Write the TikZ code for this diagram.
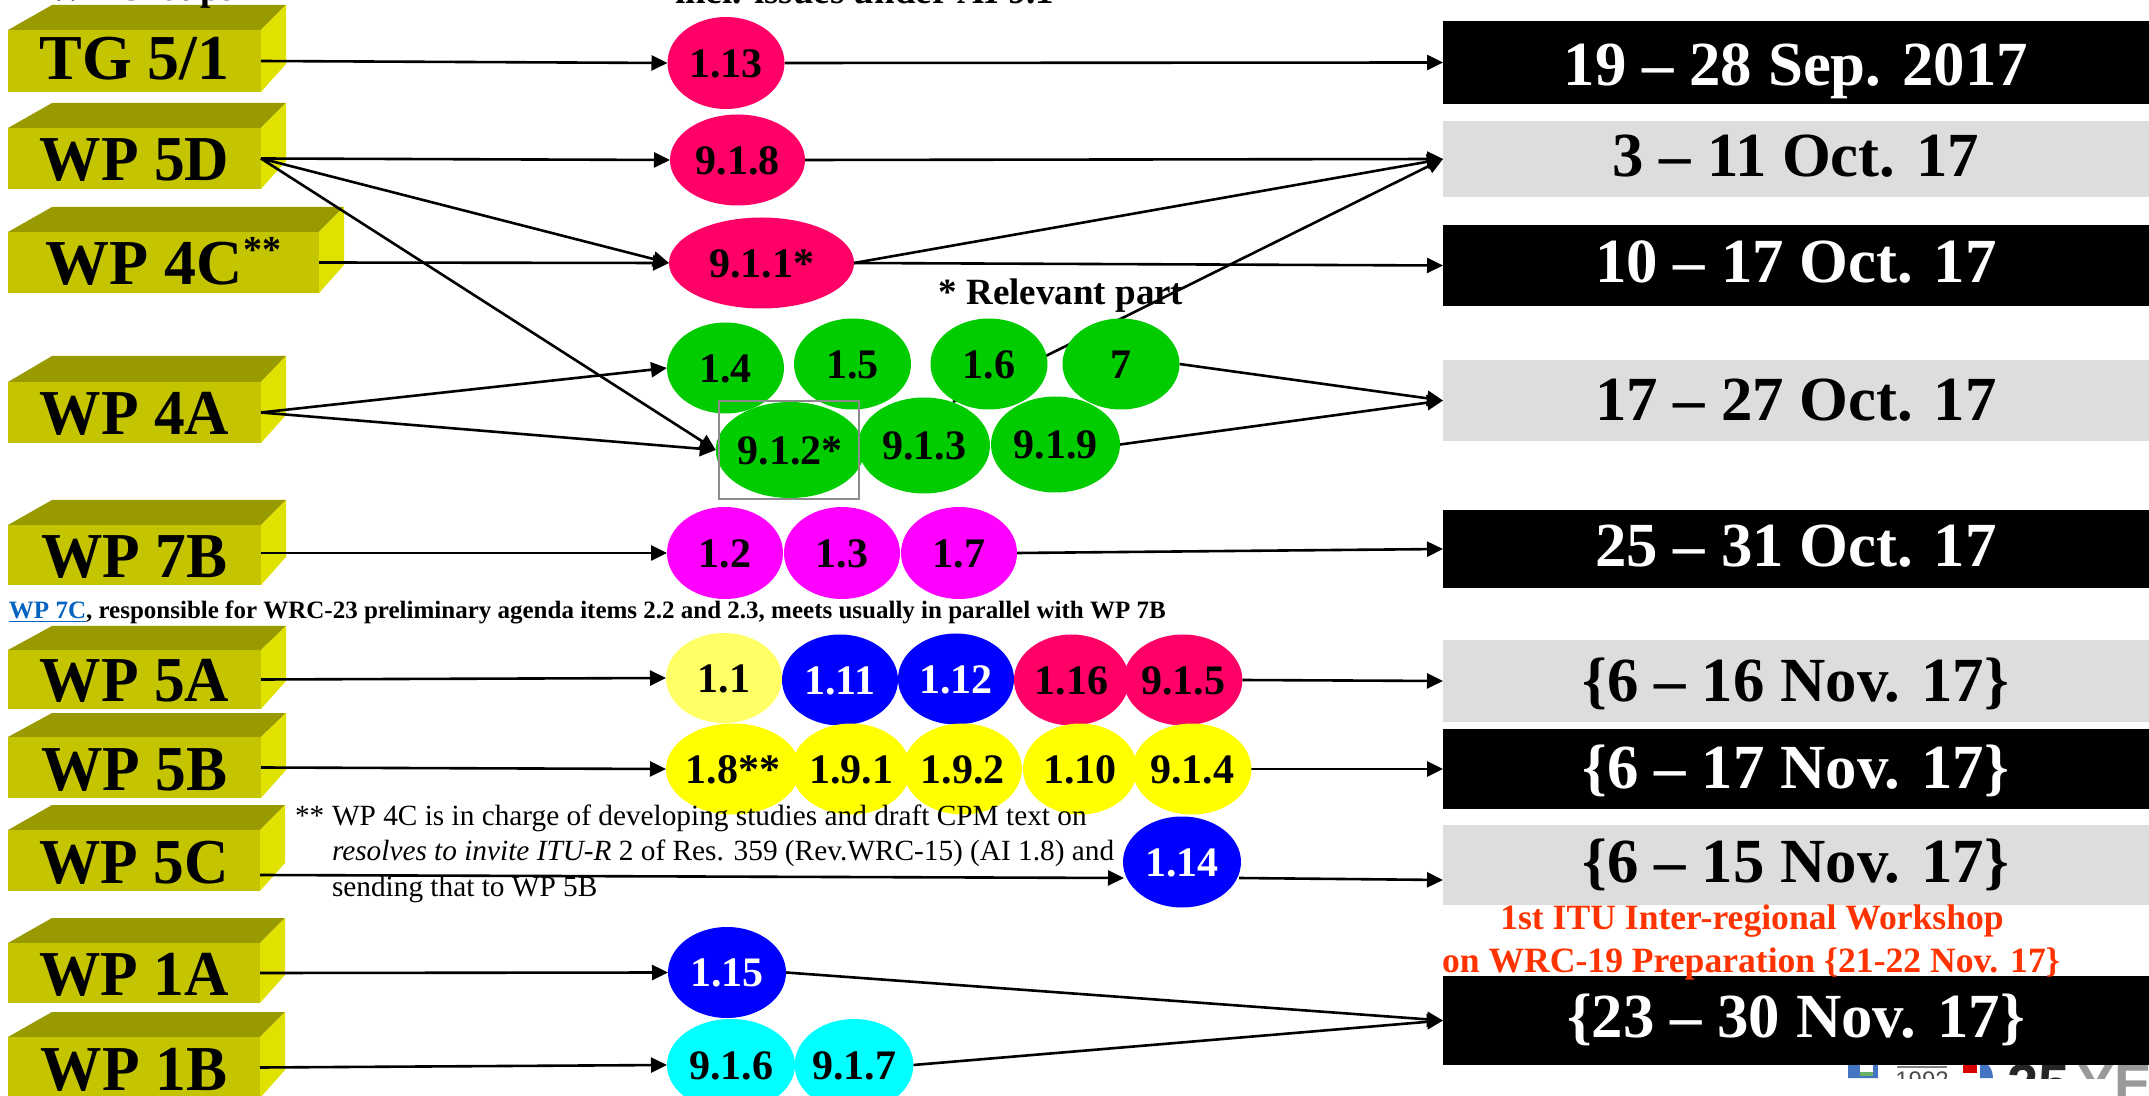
\documentclass[tikz,border=0pt]{standalone}
\usepackage{graphicx}
\usepackage{fontspec}
\setmainfont{Liberation Serif}
\newfontfamily\logofont{Liberation Sans}
\usetikzlibrary{arrows.meta,shapes.geometric}
\pgfdeclarelayer{boxlayer}
\pgfdeclarelayer{linelayer}
\pgfsetlayers{boxlayer,linelayer,main}
\definecolor{boxfront}{HTML}{C4C400}
\definecolor{boxtop}{HTML}{999900}
\definecolor{boxside}{HTML}{E1E100}
\definecolor{pinkc}{HTML}{FF0066}
\definecolor{greenc}{HTML}{00CC00}
\definecolor{magc}{HTML}{FF00FF}
\definecolor{paleyel}{HTML}{FFFF66}
\definecolor{yelc}{HTML}{FFFF00}
\definecolor{bluec}{HTML}{0000FF}
\definecolor{cyanc}{HTML}{00FFFF}
\definecolor{greyc}{HTML}{DDDDDD}
\definecolor{redt}{HTML}{FF3300}
\definecolor{linkc}{HTML}{0563C1}
\tikzset{
  frontbox/.style={rectangle,fill=boxfront,inner sep=0pt,outer sep=0pt,text=black,
    font=\fontsize{32pt}{32pt}\bfseries\selectfont,text height=22.5pt,text depth=0pt},
  itemoval/.style={ellipse,inner sep=0pt,outer sep=0pt,
    font=\fontsize{21pt}{21pt}\bfseries\selectfont,text height=14.2pt,text depth=0pt},
  datebar/.style={rectangle,inner sep=0pt,outer sep=0pt,
    font=\fontsize{31.4pt}{31.4pt}\bfseries\selectfont,text height=20.5pt,text depth=0pt},
  conn/.style={line width=1.3pt,draw=black},
  arr/.style={conn,-{Triangle[length=8pt,width=7.5pt]}},
  plainlabel/.style={inner sep=0pt,outer sep=0pt,anchor=base west},
  headlabel/.style={inner sep=0pt,outer sep=0pt,font=\fontsize{18.5pt}{18.5pt}\bfseries\selectfont},
  notelabel/.style={plainlabel,font=\fontsize{14.65pt}{14.65pt}\selectfont},
  redlabel/.style={inner sep=0pt,outer sep=0pt,anchor=base,text=redt,font=\fontsize{17.8pt}{17.8pt}\bfseries\selectfont},
}
\newcommand{\wplab}[1]{\scalebox{.96}[1]{#1}}
% name, front right x, front top, front bottom, back top, label
\newcommand{\wpbox}[6]{%
  \begin{pgfonlayer}{boxlayer}
  \fill[boxtop] (8,#3) -- (52,#5) -- ({#2+25},#5) -- (#2,#3) -- cycle;
  \fill[boxside] (#2,#3) -- ({#2+25},#5) -- ({#2+25},{#4-28}) -- (#2,#4) -- cycle;
  \node[frontbox,minimum width={(#2-8)*0.5pt},minimum height={(#4-#3)*0.5pt}] (#1) at ({(#2+8)/2},{(#3+#4)/2}) {#6};
  \end{pgfonlayer}}
% name, cx, cy, rx, ry, fill, text colour, text
\newcommand{\myoval}[8]{%
  \node[itemoval,fill=#6,text=#7,minimum width={#4*1pt},minimum height={#5*1pt}] (#1) at (#2,#3) {#8};}
% name, y0, y1, fill, text colour, raise, text
\newcommand{\mybar}[7]{%
  \node[datebar,fill=#4,text=#5,minimum width=353pt,minimum height={(#3-#2)*0.5pt}] (#1) at (1796,{(#2+#3)/2}) {\raisebox{#6}{#7}};}
\begin{document}
\begin{tikzpicture}[x=0.5pt,y=-0.5pt]
\useasboundingbox (0,0) rectangle (2149,1096);
\begin{pgfonlayer}{boxlayer}
\fill[white] (0,0) rectangle (2149,1096);
\end{pgfonlayer}
% logo fragment
\begin{scope}
\clip (1840,1065) rectangle (2149,1078) (2117,1078) rectangle (2149,1096);
\fill[cyan!40!blue!80!white] (1848,1060) rectangle (1878,1080);
\fill[white] (1860,1060) rectangle (1873,1072);
\fill[green!50!black!60!white] (1860,1072) rectangle (1873,1076);
\draw[gray,line width=1pt] (1897,1067) -- (1947,1067);
\node[inner sep=0pt,anchor=base,text=black!70,font=\logofont\fontsize{12pt}{12pt}\selectfont] (logoyear) at (1922,1088) {1992};
\fill[red!85!black] (1963,1060) rectangle (1977,1073);
\fill[cyan!40!blue!80!white] (1980,1060) .. controls (1990,1064) and (1993,1070) .. (1993,1080) -- (1980,1080) -- cycle;
\node[inner sep=0pt,anchor=base west,text=black!85,font=\logofont\bfseries\fontsize{28pt}{28pt}\selectfont] (logoyears) at (2007,1103) {25};
\node[inner sep=0pt,anchor=base west,text=black!40,font=\logofont\bfseries\fontsize{28pt}{28pt}\selectfont] (logoyea) at (2077,1103) {YEA};
\end{scope}
% top clipped headings
\node[headlabel,anchor=base east] (headgroups) at (235,0.5) {WP Groups};
\node[headlabel,anchor=base west] (headissues) at (675,4) {incl. issues under AI 9.1};
% boxes
\wpbox{bTG}{261}{30}{92}{5}{\raisebox{2pt}{TG 5/1}}
\wpbox{bFiveD}{261}{128}{189}{103}{\wplab{WP 5D}}
\wpbox{bFourC}{319}{232}{293}{207}{WP 4C\raisebox{11pt}{\fontsize{19pt}{19pt}\selectfont **}}
\wpbox{bFourA}{261}{382}{443}{356}{\wplab{WP 4A}}
\wpbox{bSevenB}{261}{525}{585}{500}{\wplab{WP 7B}}
\wpbox{bFiveA}{261}{650}{709}{626}{\wplab{WP 5A}}
\wpbox{bFiveB}{261}{737}{798}{713}{\wplab{WP 5B}}
\wpbox{bFiveC}{260}{830}{891}{805}{\wplab{WP 5C}}
\wpbox{bOneA}{260}{943}{1003}{918}{\wplab{WP 1A}}
\wpbox{bOneB}{260}{1037}{1098}{1012}{\wplab{WP 1B}}
% date bars
\mybar{rA}{21}{104}{black}{white}{-1.5pt}{19 – 28 Sep. 2017}
\mybar{rB}{121}{197}{greyc}{black}{1.5pt}{3 – 11 Oct. 17}
\mybar{rC}{225}{306}{black}{white}{1.5pt}{10 – 17 Oct. 17}
\mybar{rD}{360}{441}{greyc}{black}{0pt}{17 – 27 Oct. 17}
\mybar{rE}{510}{588}{black}{white}{1.5pt}{25 – 31 Oct. 17}
\mybar{rF}{640}{722}{greyc}{black}{0pt}{\{6 – 16 Nov. 17\}}
\mybar{rG}{729}{809}{black}{white}{0.5pt}{\{6 – 17 Nov. 17\}}
\mybar{rH}{825}{905}{greyc}{black}{1.5pt}{\{6 – 15 Nov. 17\}}
\mybar{rI}{976}{1065}{black}{white}{2pt}{\{23 – 30 Nov. 17\}}
% ovals
\myoval{eOneThirteen}{726}{63}{58.5}{46}{pinkc}{black}{1.13}
\myoval{eNineEight}{737.5}{160}{67.5}{45.5}{pinkc}{black}{9.1.8}
\myoval{eNineOne}{761.5}{263}{92.5}{45.5}{pinkc}{black}{9.1.1*}
\myoval{eOneFour}{725.5}{368}{58.5}{45.5}{greenc}{black}{1.4}
\myoval{eOneFive}{852.5}{364}{58.5}{45.5}{greenc}{black}{1.5}
\myoval{eOneSix}{989}{364}{58.5}{45.5}{greenc}{black}{1.6}
\myoval{eSeven}{1121}{364}{58.5}{45.5}{greenc}{black}{7}
\myoval{eNineTwo}{790}{450}{70}{48}{greenc}{black}{9.1.2*}
\myoval{eNineThree}{924}{445.5}{66}{48}{greenc}{black}{9.1.3}
\myoval{eNineNine}{1055.5}{444.5}{64.5}{48}{greenc}{black}{9.1.9}
\myoval{eOneTwo}{725}{553}{58}{46}{magc}{black}{1.2}
\myoval{eOneThree}{842}{553}{58}{46}{magc}{black}{1.3}
\myoval{eOneSeven}{959}{553}{58}{46}{magc}{black}{1.7}
\myoval{eOneOne}{724}{678}{58}{45}{paleyel}{black}{1.1}
\myoval{eOneEleven}{840}{680}{58}{45.5}{bluec}{white}{1.11}
\myoval{eOneTwelve}{956}{679}{58}{45.5}{bluec}{white}{1.12}
\myoval{eOneSixteen}{1071.5}{680}{57.5}{45.5}{pinkc}{black}{1.16}
\myoval{eNineFive}{1183}{680}{57.5}{45.5}{pinkc}{black}{9.1.5}
\myoval{eOneEight}{733}{769}{67}{45.5}{yelc}{black}{1.8**}
\myoval{eNineA}{851}{769}{57}{45.5}{yelc}{black}{1.9.1}
\myoval{eNineB}{962.5}{769}{57}{45.5}{yelc}{black}{1.9.2}
\myoval{eOneTen}{1080}{769}{57}{45.5}{yelc}{black}{1.10}
\myoval{eNineFour}{1192}{769}{57}{45.5}{yelc}{black}{9.1.4}
\myoval{eOneFourteen}{1182}{862}{59}{45.5}{bluec}{white}{1.14}
\myoval{eOneFifteen}{727}{972.5}{59}{45.5}{bluec}{white}{1.15}
\myoval{eNineSix}{731}{1065}{64}{46}{cyanc}{black}{9.1.6}
\myoval{eNineSeven}{854}{1065}{58}{46}{cyanc}{black}{9.1.7}
% frame on 9.1.2*
\node[draw=black!45,line width=1pt,rectangle,inner sep=0pt,minimum width=70pt,minimum height=49pt] (frameNineTwo) at (789,450) {};
% labels
\node[headlabel,anchor=center] (relevant) at (1061,296) {* Relevant part};
\node[plainlabel,font=\fontsize{12.5pt}{12.5pt}\bfseries\selectfont] (wpsevenc) at (9,618) {\textcolor{linkc}{\underline{WP 7C}}, responsible for WRC-23 preliminary agenda items 2.2 and 2.3, meets usually in parallel with WP 7B};
\node[notelabel] (noteStar) at (295,825) {**};
\node[notelabel] (noteA) at (332,825) {WP 4C is in charge of developing studies and draft CPM text on};
\node[notelabel] (noteB) at (332,860) {\textit{resolves to invite ITU-R} 2 of Res. 359 (Rev.WRC-15) (AI 1.8) and};
\node[notelabel] (noteC) at (332,896) {sending that to WP 5B};
\node[redlabel] (redA) at (1752,929) {1st ITU Inter-regional Workshop};
\node[redlabel] (redB) at (1751,972) {on WRC-19 Preparation \{21-22 Nov. 17\}};
% free connector ends
\coordinate (sevenBout) at (261,553);
\coordinate (fiveCout) at (260,875);
\coordinate (fourteenIn) at (1124,878);
\coordinate (fourteenOut) at (1239,878);
\coordinate (rHin) at (1443,880);
\coordinate (nineThreeOut) at (953,402);
\begin{pgfonlayer}{linelayer}
\draw[arr] (bTG.east) -- (eOneThirteen.west);
\draw[arr] (eOneThirteen.east) -- (rA.west);
\draw[arr] (bFiveD.east) -- (eNineEight.west);
\draw[arr] (eNineEight.east) -- (rB.west);
\draw[arr] (bFiveD.east) -- (eNineOne.west);
\draw[arr] (bFiveD.east) -- (eNineTwo.west);
\draw[arr] (bFourC.east) -- (eNineOne.west);
\draw[arr] (eNineOne.east) -- (rB.west);
\draw[arr] (eNineOne.east) -- (rC.west);
\draw[arr] (nineThreeOut) -- (rB.west);
\draw[arr] (bFourA.east) -- (eOneFour.west);
\draw[arr] (bFourA.east) -- (eNineTwo.west);
\draw[arr] (eSeven.east) -- (rD.west);
\draw[arr] (eNineNine.east) -- (rD.west);
\draw[arr] (sevenBout) -- (eOneTwo.west);
\draw[arr] (eOneSeven.east) -- (rE.west);
\draw[arr] (bFiveA.east) -- (eOneOne.west);
\draw[arr] (eNineFive.east) -- (rF.west);
\draw[arr] (bFiveB.east) -- (eOneEight.west);
\draw[arr] (eNineFour.east) -- (rG.west);
\draw[arr] (fiveCout) -- (fourteenIn);
\draw[arr] (fourteenOut) -- (rHin);
\draw[arr] (bOneA.east) -- (eOneFifteen.west);
\draw[arr] (eOneFifteen.east) -- (rI.west);
\draw[arr] (bOneB.east) -- (eNineSix.west);
\draw[arr] (eNineSeven.east) -- (rI.west);
\end{pgfonlayer}
\end{tikzpicture}
\end{document}
